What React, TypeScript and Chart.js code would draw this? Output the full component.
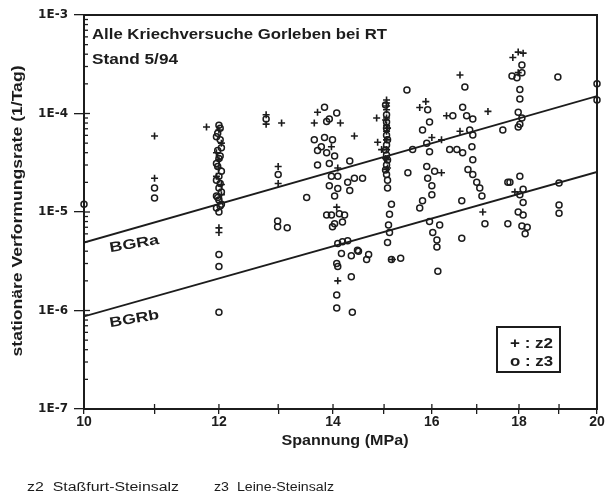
import { useEffect, useRef } from "react";
import { Chart, registerables } from "chart.js";

Chart.register(...registerables);

const INK = "#1c1c1c";
const FONT = "Liberation Sans";

// Spannung axis (MPa), logarithmic
const stressTicks = [10, 11, 12, 13, 14, 15, 16, 17, 18, 19, 20];
const stressLabelled = [10, 12, 14, 16, 18, 20];

// Creep-rate axis (1/Tag): decades and their labels
const rateDecades = [1e-7, 1e-6, 1e-5, 1e-4, 1e-3];
const rateDecadeLabels = ["1E-7", "1E-6", "1E-5", "1E-4", "1E-3"];
const rateMinorSteps = [2, 3, 4, 5, 6, 7, 8, 9];

// Kriechgesetze BGRa / BGRb
const bgrStress = [10, 20];
const bgraRate = [4.9e-6, 1.5e-4];
const bgrbRate = [8.7e-7, 2.55e-5];

// z2 Staßfurt-Steinsalz: [Spannung MPa, Rate 1/Tag]
const z2Tests: [number, number][] = [
  [11.0, 5.9e-5], [11.0, 2.2e-5], [11.8, 7.3e-5],
  [12.0, 6.8e-5], [12.04, 5.0e-5], [11.96, 4.0e-5], [12.0, 2.8e-5], [12.04, 1.9e-5],
  [12.0, 3.4e-5], [11.96, 2.3e-5], [12.04, 1.5e-5],
  [12.0, 6.9e-6], [12.0, 6.2e-6],
  [12.79, 9.7e-5], [12.79, 7.8e-5], [13.06, 8.0e-5], [13.0, 2.9e-5], [13.0, 1.95e-5],
  [13.71, 1.03e-4], [13.65, 8.0e-5], [14.14, 8.0e-5], [14.41, 5.9e-5], [13.97, 4.6e-5],
  [14.09, 2.8e-5], [14.07, 1.12e-5], [14.09, 2.0e-6],
  [15.05, 1.37e-4], [15.05, 1.28e-4], [15.05, 1.19e-4], [15.05, 1.09e-4], [15.05, 9.0e-5],
  [15.05, 7.6e-5], [15.05, 6.6e-5], [15.05, 5.4e-5], [15.05, 4.3e-5], [15.05, 3.4e-5],
  [15.05, 2.7e-5], [15.03, 8.6e-5], [15.07, 7.1e-5], [15.03, 3.5e-5], [15.07, 2.8e-5],
  [14.85, 9.0e-5], [14.87, 5.1e-5], [14.95, 4.3e-5], [15.17, 3.3e-6],
  [15.87, 1.32e-4], [15.74, 1.15e-4], [16.0, 5.7e-5], [16.21, 5.4e-5], [16.21, 2.5e-5],
  [16.62, 2.46e-4], [16.32, 9.5e-5], [16.62, 6.6e-5], [17.26, 1.05e-4], [17.14, 1.0e-5],
  [17.98, 4.2e-4], [17.85, 3.7e-4], [18.1, 4.1e-4], [17.98, 2.6e-4], [17.9, 1.6e-5],
];

// z3 Leine-Steinsalz: [Spannung MPa, Rate 1/Tag]
const z3Tests: [number, number][] = [
  [10.0, 1.2e-5], [11.0, 1.75e-5], [11.0, 1.39e-5],
  [12.0, 7.6e-5], [11.96, 5.8e-5], [12.04, 4.5e-5], [12.0, 3.5e-5], [11.96, 3.1e-5],
  [12.04, 2.6e-5], [12.0, 2.3e-5], [11.96, 2.1e-5], [12.0, 1.75e-5], [12.04, 1.6e-5],
  [11.96, 1.45e-5], [12.0, 1.32e-5], [12.04, 1.2e-5], [11.96, 1.1e-5], [12.0, 1.0e-5],
  [12.02, 7.1e-5], [11.98, 6.3e-5], [12.02, 5.4e-5], [11.98, 4.2e-5], [12.02, 3.7e-5],
  [11.98, 2.9e-5], [12.02, 1.95e-5], [11.98, 1.4e-5], [12.02, 1.15e-5],
  [12.0, 3.7e-6], [12.0, 2.8e-6], [12.0, 9.6e-7],
  [12.79, 8.8e-5], [13.0, 2.4e-5], [13.51, 1.4e-5], [12.99, 8.1e-6], [12.99, 7.1e-6], [13.16, 6.9e-6],
  [13.84, 1.16e-4], [14.07, 1.01e-4], [13.93, 8.8e-5], [13.88, 8.3e-5], [13.65, 5.4e-5],
  [13.84, 5.7e-5], [13.99, 5.4e-5], [13.78, 4.6e-5], [13.71, 4.2e-5], [13.88, 4.0e-5],
  [14.03, 3.7e-5], [13.71, 3.0e-5], [13.93, 3.1e-5], [14.32, 3.3e-5], [14.41, 2.2e-5],
  [13.97, 2.3e-5], [14.09, 2.3e-5], [14.28, 2.0e-5], [13.93, 1.85e-5], [14.09, 1.73e-5],
  [14.32, 1.65e-5], [14.03, 1.45e-5], [14.57, 2.2e-5], [13.88, 9.3e-6], [13.97, 9.3e-6],
  [14.12, 9.6e-6], [14.22, 9.3e-6], [14.03, 7.6e-6], [14.18, 7.9e-6], [13.99, 7.1e-6],
  [14.09, 4.8e-6], [14.18, 5.0e-6], [14.28, 5.1e-6], [14.47, 4.1e-6], [14.16, 3.8e-6],
  [14.35, 3.6e-6], [14.49, 4.0e-6], [14.69, 3.7e-6], [14.07, 3.0e-6], [14.09, 2.8e-6],
  [14.35, 2.2e-6], [14.07, 1.44e-6], [14.07, 1.06e-6], [14.37, 9.6e-7],
  [15.05, 9.7e-5], [15.05, 8.2e-5], [15.05, 7.1e-5], [15.05, 6.0e-5], [15.05, 4.8e-5],
  [15.05, 3.8e-5], [15.05, 3.0e-5], [15.05, 2.4e-5], [15.07, 1.75e-5], [15.15, 1.2e-5],
  [15.03, 1.22e-4], [15.07, 5.4e-5], [15.03, 4.26e-5], [15.07, 3.37e-5], [15.03, 2.67e-5],
  [15.07, 2.1e-5],
  [15.11, 9.5e-6], [15.09, 7.4e-6], [15.11, 6.2e-6], [15.07, 4.9e-6], [14.65, 3.3e-6],
  [15.15, 3.3e-6], [15.34, 3.4e-6], [15.59, 4.3e-5], [15.49, 2.5e-5], [15.47, 1.73e-4],
  [15.91, 1.09e-4], [15.95, 8.2e-5], [15.8, 6.8e-5], [15.89, 5.0e-5], [15.95, 4.1e-5],
  [15.89, 2.9e-5], [16.06, 2.6e-5], [15.91, 2.2e-5], [16.0, 1.85e-5], [16.0, 1.5e-5],
  [15.8, 1.3e-5], [15.74, 1.1e-5], [15.95, 8.0e-6], [16.17, 7.4e-6], [16.02, 6.2e-6],
  [16.11, 5.2e-6], [16.11, 4.4e-6], [16.13, 2.5e-6],
  [16.73, 1.86e-4], [16.68, 1.16e-4], [16.46, 9.5e-5], [16.77, 9.5e-5], [16.91, 8.8e-5],
  [16.84, 6.8e-5], [16.91, 6.05e-5], [16.39, 4.3e-5], [16.55, 4.3e-5], [16.68, 4.0e-5],
  [16.89, 4.6e-5], [16.91, 3.4e-5], [16.8, 2.7e-5], [16.91, 2.4e-5], [17.0, 2.0e-5],
  [17.07, 1.75e-5], [17.12, 1.45e-5], [16.66, 1.3e-5], [17.19, 7.6e-6], [16.66, 5.4e-6],
  [17.61, 6.8e-5], [17.73, 2.0e-5], [17.73, 7.6e-6],
  [17.83, 2.4e-4], [17.95, 2.3e-4], [18.07, 3.1e-4], [18.07, 2.6e-4], [18.02, 1.75e-4],
  [18.02, 1.4e-4], [17.98, 1.03e-4], [18.07, 9.0e-5], [18.02, 7.8e-5], [17.98, 7.3e-5],
  [18.02, 2.3e-5], [17.78, 2.0e-5], [18.1, 1.7e-5], [18.02, 1.5e-5], [18.1, 1.25e-5],
  [17.98, 1.0e-5], [18.1, 9.3e-6], [18.07, 7.2e-6], [18.2, 7.0e-6], [18.15, 6.0e-6],
  [18.97, 2.35e-4], [19.0, 1.97e-5], [19.0, 1.18e-5], [19.0, 9.7e-6],
  [20.0, 2.0e-4], [20.0, 1.37e-4],
];

const yTickValues: number[] = [];
rateDecades.forEach((d, i) => {
  yTickValues.push(d);
  if (i < rateDecades.length - 1) rateMinorSteps.forEach((m) => yTickValues.push(d * m));
});

const decadeIndex = (v: number) => rateDecades.findIndex((d) => Math.abs(d - v) / d < 1e-6);

// Draws text squeezed or stretched along its baseline to a given width
function fitText(
  ctx: CanvasRenderingContext2D,
  text: string,
  x: number,
  y: number,
  font: string,
  width: number,
  align: CanvasTextAlign = "left",
  angle = 0
) {
  ctx.save();
  ctx.font = font;
  const w = ctx.measureText(text).width;
  ctx.translate(x, y);
  if (angle) ctx.rotate(angle);
  ctx.scale(width / w, 1);
  ctx.textAlign = align;
  ctx.textBaseline = "alphabetic";
  ctx.fillStyle = INK;
  ctx.fillText(text, 0, 0);
  ctx.restore();
}

const decorations = {
  id: "decorations",
  beforeDraw(chart: Chart) {
    const { ctx, width, height } = chart;
    ctx.save();
    ctx.fillStyle = "#fff";
    ctx.fillRect(0, 0, width, height);
    ctx.restore();
  },
  afterDraw(chart: Chart) {
    const { ctx, chartArea: a } = chart;
    const xs = chart.scales.x;
    const ys = chart.scales.y;
    ctx.save();
    ctx.strokeStyle = INK;
    ctx.lineCap = "butt";

    // top and right frame
    ctx.lineWidth = 2;
    ctx.beginPath();
    ctx.moveTo(a.left - 1, a.top);
    ctx.lineTo(a.right, a.top);
    ctx.lineTo(a.right, a.bottom + 1);
    ctx.stroke();

    // inward ticks on the rate axis
    ctx.lineWidth = 1.3;
    ys.ticks.forEach((t) => {
      const y = ys.getPixelForValue(t.value);
      const len = decadeIndex(t.value) >= 0 ? 6 : 4;
      ctx.beginPath();
      ctx.moveTo(a.left, y);
      ctx.lineTo(a.left + len, y);
      ctx.stroke();
    });

    // inward ticks on the stress axis
    xs.ticks.forEach((t) => {
      const x = xs.getPixelForValue(t.value);
      ctx.beginPath();
      ctx.moveTo(x, a.bottom);
      ctx.lineTo(x, a.bottom - 5);
      ctx.stroke();
    });

    // legend box
    ctx.lineWidth = 2;
    ctx.strokeRect(497, 327, 63, 45);
    ctx.restore();

    const bold = (s: number) => `bold ${s}px "${FONT}"`;
    fitText(ctx, "Alle Kriechversuche Gorleben bei RT", 92, 39, bold(14), 295);
    fitText(ctx, "Stand 5/94", 92, 64, bold(14), 86);
    fitText(ctx, "BGRa", 135, 248, bold(14), 50, "center", -0.17);
    fitText(ctx, "BGRb", 135, 323, bold(14), 50, "center", -0.17);
    fitText(ctx, "+ : z2", 510, 348, bold(14), 43);
    fitText(ctx, "o : z3", 510, 366, bold(14), 43);
    fitText(ctx, "stationäre Verformungsrate (1/Tag)", 22, 211, bold(14), 291, "center", -Math.PI / 2);
    fitText(ctx, "Spannung (MPa)", 345, 445, bold(14), 127, "center");
    fitText(ctx, "z2  Staßfurt-Steinsalz", 27, 491, `${12}px "${FONT}"`, 152);
    fitText(ctx, "z3  Leine-Steinsalz", 214, 491, `${12}px "${FONT}"`, 120);
  },
};

export default function App() {
  const canvasRef = useRef<HTMLCanvasElement | null>(null);

  useEffect(() => {
    const canvas = canvasRef.current;
    if (!canvas) return;

    const chart = new Chart(canvas, {
      type: "scatter",
      data: {
        datasets: [
          {
            label: "BGRa",
            data: bgrStress.map((s, i) => ({ x: s, y: bgraRate[i] })),
            showLine: true,
            borderColor: INK,
            borderWidth: 1.8,
            pointRadius: 0,
          },
          {
            label: "BGRb",
            data: bgrStress.map((s, i) => ({ x: s, y: bgrbRate[i] })),
            showLine: true,
            borderColor: INK,
            borderWidth: 1.8,
            pointRadius: 0,
          },
          {
            label: "z2",
            data: z2Tests.map(([x, y]) => ({ x, y })),
            pointStyle: "cross",
            pointRadius: 3.5,
            borderColor: INK,
            borderWidth: 1.6,
            clip: false,
          },
          {
            label: "z3",
            data: z3Tests.map(([x, y]) => ({ x, y })),
            pointStyle: "circle",
            pointRadius: 3,
            borderColor: INK,
            backgroundColor: "rgba(255,255,255,0)",
            borderWidth: 1.5,
            clip: false,
          },
        ],
      },
      options: {
        responsive: false,
        animation: false,
        devicePixelRatio: 1,
        layout: { padding: { top: 15, right: 10, left: 0, bottom: 0 } },
        plugins: {
          legend: { display: false },
          tooltip: { enabled: false },
        },
        scales: {
          x: {
            type: "logarithmic",
            min: 10,
            max: 20,
            afterBuildTicks: (scale: any) => {
              scale.ticks = stressTicks.map((v) => ({ value: v }));
            },
            afterFit: (scale: any) => {
              scale.height = 90;
            },
            ticks: {
              autoSkip: false,
              maxRotation: 0,
              padding: 0,
              color: INK,
              font: { family: FONT, size: 14, weight: "bold" },
              callback: (v: any) => (stressLabelled.includes(Number(v)) ? String(v) : ""),
            },
            grid: { drawOnChartArea: false, tickLength: 5, color: INK, lineWidth: 1.3 },
            border: { color: INK, width: 2 },
          },
          y: {
            type: "logarithmic",
            min: 1e-7,
            max: 1e-3,
            afterBuildTicks: (scale: any) => {
              scale.ticks = yTickValues.map((v) => ({ value: v }));
            },
            afterFit: (scale: any) => {
              scale.width = 84;
            },
            ticks: {
              autoSkip: false,
              padding: 6,
              color: INK,
              font: { family: "DejaVu Sans", size: 12, weight: "bold" },
              callback: (v: any) => {
                const i = decadeIndex(Number(v));
                return i >= 0 ? rateDecadeLabels[i] : "";
              },
            },
            grid: {
              drawOnChartArea: false,
              tickLength: 10,
              lineWidth: 1.3,
              color: (c: any) =>
                c.tick && decadeIndex(c.tick.value) >= 0 ? INK : "rgba(0,0,0,0)",
            },
            border: { color: INK, width: 2 },
          },
        },
      },
      plugins: [decorations],
    });

    return () => chart.destroy();
  }, []);

  return (
    <div style={{ position: "absolute", left: 0, top: 0, width: 607, height: 499, background: "#fff" }}>
      <canvas ref={canvasRef} width={607} height={499} style={{ display: "block" }} />
    </div>
  );
}
